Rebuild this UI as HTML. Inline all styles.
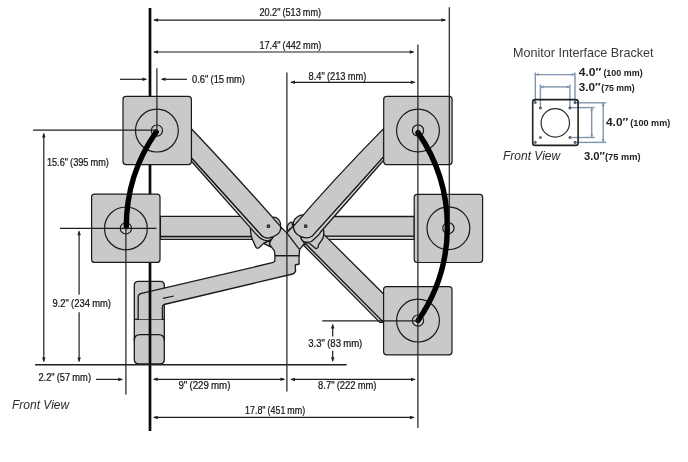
<!DOCTYPE html>
<html lang="en"><head><meta charset="utf-8"><title>Dimensions</title>
<style>
html,body{margin:0;padding:0;background:#fff;}
body{width:688px;height:462px;overflow:hidden;}
svg{display:block;will-change:transform;}
text{font-family:"Liberation Sans",sans-serif;}
.t{fill:#161616;word-spacing:-0.5px;stroke:#161616;stroke-width:0.22px;}
.fv{fill:#2a2a2a;font-style:italic;}
.ti{fill:#3a3a3a;}
.b{fill:#222;font-weight:bold;}
</style></head>
<body>
<svg width="688" height="462" viewBox="0 0 688 462">
<rect width="688" height="462" fill="#ffffff"/>
<path d="M138.5 281.3 H160.3 Q164.3 281.3 164.3 285.3 V359.5 Q164.3 363.8 160 363.8 H138.8 Q134.3 363.8 134.3 359.5 V285.3 Q134.3 281.3 138.5 281.3 Z" fill="#c9c9c9" stroke="#1a1a1a" stroke-width="1.3" stroke-linejoin="round" stroke-linecap="round"/>
<line x1="134.3" y1="319.3" x2="164.3" y2="319.3" stroke="#1a1a1a" stroke-width="1.3" />
<path d="M134.3 340.5 Q134.3 334.7 140.3 334.7 H158.3 Q164.3 334.7 164.3 340.5" fill="none" stroke="#1a1a1a" stroke-width="1.3" stroke-linejoin="round" stroke-linecap="round"/>
<path d="M138.2 319.3 V297 Q138.2 294.2 141.5 293.4 L272.4 262.7 L274.8 261.3 L275 255.6 H299.1 V264 L295.2 265 L295.6 271 Q294.5 274 290.7 274.5 L164 304.5 Q162.4 305 162.4 307 L162.4 319.3" fill="#c9c9c9" stroke="#1a1a1a" stroke-width="1.3" stroke-linejoin="round" stroke-linecap="round"/>
<line x1="162.9" y1="298.3" x2="173.8" y2="296.0" stroke="#1a1a1a" stroke-width="1.2" />
<line x1="150" y1="8" x2="150" y2="431" stroke="#0a0a0a" stroke-width="2.7" />
<path d="M160.40 239.30 L252.00 239.30 L252.00 236.50 L160.40 236.50 Z" fill="#dedede" stroke="#1a1a1a" stroke-width="1.3" stroke-linejoin="round"/>
<path d="M160.40 216.30 L262.00 216.30 L262.00 236.50 L160.40 236.50 Z" fill="#c9c9c9" stroke="#1a1a1a" stroke-width="1.3" stroke-linejoin="round"/>
<path d="M326.00 239.30 L414.30 239.30 L414.30 236.20 L326.00 236.20 Z" fill="#dedede" stroke="#1a1a1a" stroke-width="1.3" stroke-linejoin="round"/>
<path d="M315.00 216.50 L414.30 216.50 L414.30 236.20 L315.00 236.20 Z" fill="#c9c9c9" stroke="#1a1a1a" stroke-width="1.3" stroke-linejoin="round"/>
<path d="M303.60 245.30 L379.80 322.40 L383.60 322.40 L383.60 320.50 L305.70 243.80 Z" fill="#cecece" stroke="#1a1a1a" stroke-width="1.3" stroke-linejoin="round"/>
<path d="M324.00 234.60 L383.60 294.00 L383.60 321.20 L382.40 321.20 L305.70 243.80 L312.00 232.00 Z" fill="#c9c9c9" stroke="#1a1a1a" stroke-width="1.3" stroke-linejoin="round"/>
<path d="M250.6 227.5 Q250.2 233 251.9 238.2 L255.1 245.4 L256.2 247.7 Q257.5 248.6 259 247.7 L263.6 243.4 L270.7 240.2 L272.7 237.9 L268 228 L256 224 Z" fill="#c9c9c9" stroke="#1a1a1a" stroke-width="1.3" stroke-linejoin="round" stroke-linecap="round"/>
<path d="M263.6 243.4 L270.1 246.7 Q271.6 247.4 271.2 246.2 L269.4 244.1 L270.7 240.2 Z" fill="#c9c9c9" stroke="#1a1a1a" stroke-width="1.3" stroke-linejoin="round" stroke-linecap="round"/>
<path d="M323.1 227.5 Q324.2 232 323.6 236 Q322.8 239 321.8 240.2 L318.6 244.7 L317.9 247.6 Q316.6 248.9 315.3 248.3 L312.1 245.4 L309.5 243.4 L303 241.5 L301 237.9 L306 228 L316 224 Z" fill="#c9c9c9" stroke="#1a1a1a" stroke-width="1.3" stroke-linejoin="round" stroke-linecap="round"/>
<path d="M271.8 217.8 Q275.5 215.6 279.1 220.1 Q281 223 280.5 226 L270 222 Z" fill="#c9c9c9" stroke="#1a1a1a" stroke-width="1.3" stroke-linejoin="round" stroke-linecap="round"/>
<path d="M303.5 214.9 Q299.5 214.5 294.9 219 Q292.6 222 293.1 225.5 L300 224 Z" fill="#c9c9c9" stroke="#1a1a1a" stroke-width="1.3" stroke-linejoin="round" stroke-linecap="round"/>
<path d="M291.9 222.2 Q288.8 222.4 287.5 226 Q287 229 287.6 231 L292.8 226.6 Z" fill="#c9c9c9" stroke="#1a1a1a" stroke-width="1.3" stroke-linejoin="round" stroke-linecap="round"/>
<path d="M281.00 227.20 L286.80 232.90 L292.80 226.60 L300.00 236.00 L304.40 243.40 L299.60 249.60 L299.10 255.60 L275.00 255.60 L274.30 250.80 L269.40 244.10 L272.20 237.60 Z" fill="#c9c9c9" stroke="#1a1a1a" stroke-width="1.3" stroke-linejoin="round"/>
<line x1="286.8" y1="232.9" x2="299.4" y2="249.4" stroke="#1a1a1a" stroke-width="1.3" />
<path d="M191.4 161.2 L254.5 232.4 L258.6 236.8 Q262.5 240.6 267.5 240.8 Q271.5 240.6 272.9 237.6 L262 236 L191.4 157.8 Z" fill="#cecece" stroke="#1a1a1a" stroke-width="1.3" stroke-linejoin="round" stroke-linecap="round"/>
<path d="M191.4 128.7 Q240.6 180.7 280.6 226.6 Q281.2 231.5 277.2 234.6 Q272.7 238 268.1 238.1 Q263.5 237.8 261.6 235.4 L191.4 157.8 Z" fill="#c9c9c9" stroke="#1a1a1a" stroke-width="1.3" stroke-linejoin="round" stroke-linecap="round"/>
<path d="M383.6 160.3 L320.4 232.3 L318.6 235 L311.4 241.5 Q309 242.4 305.6 242.1 Q301.8 241.5 301 237.6 L312 236 L383.6 156.6 Z" fill="#cecece" stroke="#1a1a1a" stroke-width="1.3" stroke-linejoin="round" stroke-linecap="round"/>
<path d="M383.6 128.6 Q332.4 180.6 293.4 226.4 Q293.6 231.2 296.8 234 Q301.5 237.9 306.9 237.9 Q310.6 237.6 312.6 235.6 L383.6 156.6 Z" fill="#c9c9c9" stroke="#1a1a1a" stroke-width="1.3" stroke-linejoin="round" stroke-linecap="round"/>
<circle cx="268.4" cy="226.2" r="1.3" fill="#888" stroke="#1a1a1a" stroke-width="1.1"/>
<circle cx="305.7" cy="226.2" r="1.3" fill="#888" stroke="#1a1a1a" stroke-width="1.1"/>
<rect x="123" y="96.4" width="68.4" height="68.2" rx="3" fill="#c9c9c9" stroke="#1a1a1a" stroke-width="1.2"/>
<circle cx="156.9" cy="130.6" r="21.4" fill="none" stroke="#1a1a1a" stroke-width="1.2"/>
<circle cx="156.9" cy="130.6" r="5.6" fill="none" stroke="#1a1a1a" stroke-width="1.2"/>
<rect x="91.6" y="194.2" width="68.4" height="68.2" rx="3" fill="#c9c9c9" stroke="#1a1a1a" stroke-width="1.2"/>
<circle cx="125.9" cy="228.4" r="21.4" fill="none" stroke="#1a1a1a" stroke-width="1.2"/>
<circle cx="125.9" cy="228.4" r="5.6" fill="none" stroke="#1a1a1a" stroke-width="1.2"/>
<rect x="383.7" y="96.4" width="68.4" height="68.2" rx="3" fill="#c9c9c9" stroke="#1a1a1a" stroke-width="1.2"/>
<circle cx="418" cy="130.5" r="21.4" fill="none" stroke="#1a1a1a" stroke-width="1.2"/>
<circle cx="418" cy="130.5" r="5.6" fill="none" stroke="#1a1a1a" stroke-width="1.2"/>
<rect x="414.2" y="194.3" width="68.4" height="68.2" rx="3" fill="#c9c9c9" stroke="#1a1a1a" stroke-width="1.2"/>
<circle cx="448.4" cy="228.2" r="21.4" fill="none" stroke="#1a1a1a" stroke-width="1.2"/>
<circle cx="448.4" cy="228.2" r="5.6" fill="none" stroke="#1a1a1a" stroke-width="1.2"/>
<rect x="383.6" y="286.6" width="68.4" height="68.2" rx="3" fill="#c9c9c9" stroke="#1a1a1a" stroke-width="1.2"/>
<circle cx="418" cy="320.6" r="21.4" fill="none" stroke="#1a1a1a" stroke-width="1.2"/>
<circle cx="418" cy="320.6" r="5.6" fill="none" stroke="#1a1a1a" stroke-width="1.2"/>
<path d="M156.2 132 A165.3 165.3 0 0 0 126.3 226.8" fill="none" stroke="#000" stroke-width="5.4" stroke-linecap="round"/>
<path d="M418 132.6 A165.3 165.3 0 0 1 418.1 320.5" fill="none" stroke="#000" stroke-width="5.4" stroke-linecap="round"/>
<line x1="156.9" y1="68.3" x2="156.9" y2="131" stroke="#1f1f1f" stroke-width="1.2" />
<line x1="125.9" y1="228" x2="125.9" y2="394.5" stroke="#1f1f1f" stroke-width="1.2" />
<line x1="286.9" y1="72.4" x2="286.9" y2="391.5" stroke="#1f1f1f" stroke-width="1.2" />
<line x1="417.9" y1="44.4" x2="417.9" y2="428" stroke="#1f1f1f" stroke-width="1.2" />
<line x1="449.3" y1="7.2" x2="449.3" y2="228.5" stroke="#1f1f1f" stroke-width="1.2" />
<line x1="33" y1="130.1" x2="157" y2="130.1" stroke="#1f1f1f" stroke-width="1.2" />
<line x1="60" y1="228.4" x2="156.5" y2="228.4" stroke="#1f1f1f" stroke-width="1.2" />
<line x1="35.1" y1="364.8" x2="346.6" y2="364.8" stroke="#1f1f1f" stroke-width="1.4" />
<line x1="322.2" y1="320.9" x2="417.8" y2="320.9" stroke="#1f1f1f" stroke-width="1.2" />
<line x1="154.2" y1="20.1" x2="445.2" y2="20.1" stroke="#1f1f1f" stroke-width="1.2" />
<polygon points="153.20,20.10 158.00,18.35 158.00,21.85" fill="#1f1f1f"/>
<polygon points="446.20,20.10 441.40,18.35 441.40,21.85" fill="#1f1f1f"/>
<line x1="154.2" y1="52" x2="413.5" y2="52" stroke="#1f1f1f" stroke-width="1.2" />
<polygon points="153.20,52.00 158.00,50.25 158.00,53.75" fill="#1f1f1f"/>
<polygon points="414.50,52.00 409.70,50.25 409.70,53.75" fill="#1f1f1f"/>
<line x1="120" y1="79.3" x2="146" y2="79.3" stroke="#1f1f1f" stroke-width="1.2" />
<polygon points="147.30,79.30 142.50,77.55 142.50,81.05" fill="#1f1f1f"/>
<line x1="162" y1="79.3" x2="187" y2="79.3" stroke="#1f1f1f" stroke-width="1.2" />
<polygon points="160.70,79.30 165.50,77.55 165.50,81.05" fill="#1f1f1f"/>
<line x1="291.2" y1="82.3" x2="414.6" y2="82.3" stroke="#1f1f1f" stroke-width="1.2" />
<polygon points="290.20,82.30 295.00,80.55 295.00,84.05" fill="#1f1f1f"/>
<polygon points="415.60,82.30 410.80,80.55 410.80,84.05" fill="#1f1f1f"/>
<line x1="43.8" y1="133.7" x2="43.8" y2="361.2" stroke="#1f1f1f" stroke-width="1.2" />
<polygon points="43.80,132.70 42.05,137.50 45.55,137.50" fill="#1f1f1f"/>
<polygon points="43.80,362.20 42.05,357.40 45.55,357.40" fill="#1f1f1f"/>
<line x1="79.1" y1="231.5" x2="79.1" y2="361.2" stroke="#1f1f1f" stroke-width="1.2" />
<polygon points="79.10,230.50 77.35,235.30 80.85,235.30" fill="#1f1f1f"/>
<polygon points="79.10,362.20 77.35,357.40 80.85,357.40" fill="#1f1f1f"/>
<rect x="50" y="294.7" width="64" height="17.5" fill="#fff"/>
<line x1="332.7" y1="324.8" x2="332.7" y2="361" stroke="#1f1f1f" stroke-width="1.2" />
<polygon points="332.70,323.80 330.95,328.60 334.45,328.60" fill="#1f1f1f"/>
<polygon points="332.70,362.00 330.95,357.20 334.45,357.20" fill="#1f1f1f"/>
<rect x="306" y="336.5" width="58" height="14.2" fill="#fff"/>
<line x1="96.1" y1="379.4" x2="122" y2="379.4" stroke="#1f1f1f" stroke-width="1.2" />
<polygon points="123.10,379.40 118.30,377.65 118.30,381.15" fill="#1f1f1f"/>
<line x1="153.9" y1="379.3" x2="284.3" y2="379.3" stroke="#1f1f1f" stroke-width="1.2" />
<polygon points="152.90,379.30 157.70,377.55 157.70,381.05" fill="#1f1f1f"/>
<polygon points="285.30,379.30 280.50,377.55 280.50,381.05" fill="#1f1f1f"/>
<line x1="291.2" y1="379.4" x2="414.8" y2="379.4" stroke="#1f1f1f" stroke-width="1.2" />
<polygon points="290.20,379.40 295.00,377.65 295.00,381.15" fill="#1f1f1f"/>
<polygon points="415.80,379.40 411.00,377.65 411.00,381.15" fill="#1f1f1f"/>
<line x1="153.9" y1="417.4" x2="413.7" y2="417.4" stroke="#1f1f1f" stroke-width="1.2" />
<polygon points="152.90,417.40 157.70,415.65 157.70,419.15" fill="#1f1f1f"/>
<polygon points="414.70,417.40 409.90,415.65 409.90,419.15" fill="#1f1f1f"/>
<text x="259.4" y="16.4" font-size="10.1" class="t" text-anchor="start" textLength="61.7" lengthAdjust="spacingAndGlyphs" >20.2" (513 mm)</text>
<text x="259.4" y="48.8" font-size="10.1" class="t" text-anchor="start" textLength="62" lengthAdjust="spacingAndGlyphs" >17.4" (442 mm)</text>
<text x="308.5" y="80.0" font-size="10.1" class="t" text-anchor="start" textLength="57.8" lengthAdjust="spacingAndGlyphs" >8.4" (213 mm)</text>
<text x="192" y="83" font-size="10.1" class="t" text-anchor="start" textLength="53" lengthAdjust="spacingAndGlyphs" >0.6" (15 mm)</text>
<text x="46.9" y="166" font-size="10.1" class="t" text-anchor="start" textLength="62" lengthAdjust="spacingAndGlyphs" >15.6" (395 mm)</text>
<text x="52.5" y="306.8" font-size="10.1" class="t" text-anchor="start" textLength="58.5" lengthAdjust="spacingAndGlyphs" >9.2" (234 mm)</text>
<text x="38.4" y="381" font-size="10.1" class="t" text-anchor="start" textLength="52.6" lengthAdjust="spacingAndGlyphs" >2.2" (57 mm)</text>
<text x="178.4" y="388.7" font-size="10.1" class="t" text-anchor="start" textLength="52" lengthAdjust="spacingAndGlyphs" >9" (229 mm)</text>
<text x="318.1" y="389" font-size="10.1" class="t" text-anchor="start" textLength="58.4" lengthAdjust="spacingAndGlyphs" >8.7" (222 mm)</text>
<text x="245.1" y="413.6" font-size="10.1" class="t" text-anchor="start" textLength="60" lengthAdjust="spacingAndGlyphs" >17.8" (451 mm)</text>
<text x="308.3" y="347" font-size="10.1" class="t" text-anchor="start" textLength="54" lengthAdjust="spacingAndGlyphs" >3.3" (83 mm)</text>
<text x="12" y="409" font-size="12" class="fv" text-anchor="start" >Front View</text>
<text x="503" y="160" font-size="12" class="fv" text-anchor="start" >Front View</text>
<text x="513" y="57.3" font-size="13" class="ti" text-anchor="start" textLength="140.5" lengthAdjust="spacingAndGlyphs" >Monitor Interface Bracket</text>
<line x1="535.3" y1="72.4" x2="535.3" y2="102.6" stroke="#7f95ad" stroke-width="1.4" />
<line x1="575" y1="72.4" x2="575" y2="102.6" stroke="#7f95ad" stroke-width="1.4" />
<line x1="535.3" y1="74.6" x2="575" y2="74.6" stroke="#7f95ad" stroke-width="1.4" />
<line x1="540.4" y1="84.4" x2="540.4" y2="108" stroke="#7f95ad" stroke-width="1.4" />
<line x1="569.9" y1="84.4" x2="569.9" y2="108" stroke="#7f95ad" stroke-width="1.4" />
<line x1="540.4" y1="86.9" x2="569.9" y2="86.9" stroke="#7f95ad" stroke-width="1.4" />
<line x1="575" y1="102.8" x2="606.3" y2="102.8" stroke="#7f95ad" stroke-width="1.4" />
<line x1="575" y1="142.4" x2="606.3" y2="142.4" stroke="#7f95ad" stroke-width="1.4" />
<line x1="603.2" y1="102.8" x2="603.2" y2="142.4" stroke="#7f95ad" stroke-width="1.4" />
<line x1="569.9" y1="107.6" x2="594.7" y2="107.6" stroke="#7f95ad" stroke-width="1.4" />
<line x1="569.9" y1="137.5" x2="594.7" y2="137.5" stroke="#7f95ad" stroke-width="1.4" />
<line x1="591.7" y1="107.6" x2="591.7" y2="137.5" stroke="#7f95ad" stroke-width="1.4" />
<polygon points="535.30,74.60 538.50,73.10 538.50,76.10" fill="#7f95ad"/>
<polygon points="575.00,74.60 571.80,73.10 571.80,76.10" fill="#7f95ad"/>
<polygon points="540.40,86.90 543.60,85.40 543.60,88.40" fill="#7f95ad"/>
<polygon points="569.90,86.90 566.70,85.40 566.70,88.40" fill="#7f95ad"/>
<polygon points="603.20,102.80 601.70,106.00 604.70,106.00" fill="#7f95ad"/>
<polygon points="603.20,142.40 601.70,139.20 604.70,139.20" fill="#7f95ad"/>
<polygon points="591.70,107.60 590.20,110.80 593.20,110.80" fill="#7f95ad"/>
<polygon points="591.70,137.50 590.20,134.30 593.20,134.30" fill="#7f95ad"/>
<rect x="532.7" y="99.6" width="45.4" height="45.8" rx="2.5" fill="none" stroke="#202020" stroke-width="1.6"/>
<circle cx="555.3" cy="122.9" r="14.2" fill="none" stroke="#2a2a2a" stroke-width="1.2"/>
<circle cx="535.3" cy="102.6" r="1.1" fill="#7a8088" stroke="#333" stroke-width="0.7"/>
<circle cx="575" cy="102.6" r="1.1" fill="#7a8088" stroke="#333" stroke-width="0.7"/>
<circle cx="535.3" cy="142.4" r="1.1" fill="#7a8088" stroke="#333" stroke-width="0.7"/>
<circle cx="575" cy="142.4" r="1.1" fill="#7a8088" stroke="#333" stroke-width="0.7"/>
<circle cx="540.4" cy="108" r="1.1" fill="#7a8088" stroke="#333" stroke-width="0.7"/>
<circle cx="569.9" cy="108" r="1.1" fill="#7a8088" stroke="#333" stroke-width="0.7"/>
<circle cx="540.4" cy="137.5" r="1.1" fill="#7a8088" stroke="#333" stroke-width="0.7"/>
<circle cx="569.9" cy="137.5" r="1.1" fill="#7a8088" stroke="#333" stroke-width="0.7"/>
<text x="578.7" y="76.4" font-size="11" class="b" text-anchor="start" textLength="22.6" lengthAdjust="spacingAndGlyphs" >4.0″</text>
<text x="603.4" y="76.4" font-size="8.4" class="b" text-anchor="start" textLength="39.3" lengthAdjust="spacingAndGlyphs" >(100 mm)</text>
<text x="578.7" y="90.5" font-size="11" class="b" text-anchor="start" textLength="21.8" lengthAdjust="spacingAndGlyphs" >3.0″</text>
<text x="601.3" y="90.5" font-size="8.4" class="b" text-anchor="start" textLength="33.4" lengthAdjust="spacingAndGlyphs" >(75 mm)</text>
<text x="606" y="125.6" font-size="11" class="b" text-anchor="start" textLength="22.2" lengthAdjust="spacingAndGlyphs" >4.0″</text>
<text x="630.3" y="125.6" font-size="8.4" class="b" text-anchor="start" textLength="40" lengthAdjust="spacingAndGlyphs" >(100 mm)</text>
<text x="584" y="160" font-size="11" class="b" text-anchor="start" textLength="21" lengthAdjust="spacingAndGlyphs" >3.0″</text>
<text x="605" y="160" font-size="8.4" class="b" text-anchor="start" textLength="35.5" lengthAdjust="spacingAndGlyphs" >(75 mm)</text>
</svg>
</body></html>
